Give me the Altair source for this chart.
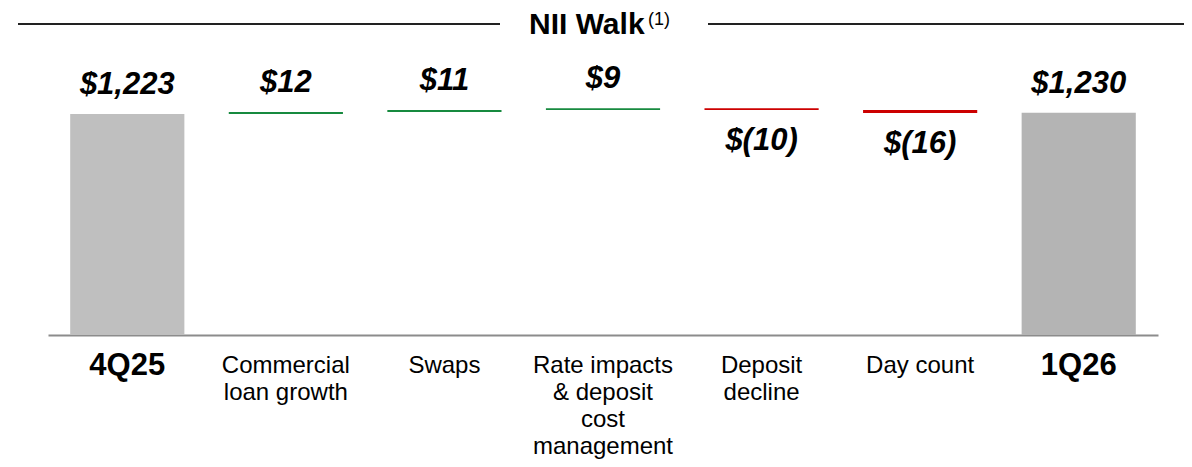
import altair as alt
import pandas as pd

# ---- data ----
categories = ["4Q25", "Commercial loan growth", "Swaps",
              "Rate impacts & deposit cost management",
              "Deposit decline", "Day count", "1Q26"]
cat_lines = ["4Q25", "Commercial\nloan growth", "Swaps",
             "Rate impacts\n& deposit\ncost\nmanagement",
             "Deposit\ndecline", "Day count", "1Q26"]
values = [1223, 12, 11, 9, -10, -16, 1230]
kinds = ["start", "delta", "delta", "delta", "delta", "delta", "end"]
title_text = "NII Walk"
title_note = "(1)"

# ---- build waterfall table ----
rows = []
running = 0
for cat, lab, v, k in zip(categories, cat_lines, values, kinds):
    if k in ("start", "end"):
        s, e = 0, v
        running = v
        kind = k
    else:
        s, e = running, running + v
        running = e
        kind = "increase" if v >= 0 else "decrease"
    if v < 0:
        txt = "$({:,})".format(abs(v))
    else:
        txt = "${:,}".format(v)
    rows.append(dict(cat=cat, lab=lab, start=s, end=e, top=max(s, e), bot=min(s, e),
                     kind=kind, txt=txt, neg=v < 0, bold=k in ("start", "end")))
df = pd.DataFrame(rows)

FONT = "Liberation Sans, Arial, Helvetica, sans-serif"

xenc = alt.X("cat:N", sort=categories,
             scale=alt.Scale(paddingInner=0.28, paddingOuter=0.14),
             axis=alt.Axis(title=None, labels=False, ticks=False, grid=False,
                           domainColor="#8c8c8c", domainWidth=2))
yscale = alt.Scale(domain=[0, 1500], nice=False, zero=True)

base = alt.Chart(df)

bars = base.mark_bar().encode(
    x=xenc,
    y=alt.Y("start:Q", scale=yscale, axis=None),
    y2="end:Q",
    color=alt.Color("kind:N",
                    scale=alt.Scale(domain=["start", "increase", "decrease", "end"],
                                    range=["#bfbfbf", "#178a3f", "#cc0000", "#b4b4b4"]),
                    legend=None),
)

pos_labels = base.transform_filter("!datum.neg").mark_text(
    font=FONT, fontSize=31, fontWeight="bold", fontStyle="italic",
    baseline="alphabetic", dy=-20, color="#000000"
).encode(x=alt.X("cat:N", sort=categories), y=alt.Y("top:Q", scale=yscale), text="txt:N")

neg_labels = base.transform_filter("datum.neg").mark_text(
    font=FONT, fontSize=31, fontWeight="bold", fontStyle="italic",
    baseline="alphabetic", dy=40, color="#000000"
).encode(x=alt.X("cat:N", sort=categories), y=alt.Y("bot:Q", scale=yscale), text="txt:N")

cat_bold = base.transform_filter("datum.bold").mark_text(
    font=FONT, fontSize=31, fontWeight="bold", baseline="alphabetic",
    color="#000000", lineBreak="\n"
).encode(x=alt.X("cat:N", sort=categories), y=alt.value(311), text="lab:N")

cat_reg = base.transform_filter("!datum.bold").mark_text(
    font=FONT, fontSize=24, baseline="alphabetic", lineHeight=27,
    color="#000000", lineBreak="\n"
).encode(x=alt.X("cat:N", sort=categories), y=alt.value(309), text="lab:N")

tdf = pd.DataFrame({"t": [title_text], "n": [title_note]})
tbase = alt.Chart(tdf)
title_main = tbase.mark_text(font=FONT, fontSize=30, fontWeight="bold",
                             align="left", baseline="alphabetic", color="#000000").encode(
    x=alt.value(481), y=alt.value(-30), text="t:N")
title_sup = tbase.mark_text(font=FONT, fontSize=18, align="left",
                            baseline="alphabetic", color="#000000").encode(
    x=alt.value(600), y=alt.value(-39), text="n:N")
rule_left = tbase.mark_rule(color="#222222", strokeWidth=2).encode(
    x=alt.value(-30), x2=alt.value(452), y=alt.value(-40))
rule_right = tbase.mark_rule(color="#222222", strokeWidth=2).encode(
    x=alt.value(660), x2=alt.value(1136), y=alt.value(-40))

chart = alt.layer(
    bars, pos_labels, neg_labels, cat_bold, cat_reg,
    title_main, title_sup, rule_left, rule_right
).properties(
    width=1110, height=271,
    padding={"left": 40, "top": 56, "right": 26, "bottom": 124},
    autosize=alt.AutoSizeParams(type="none"),
    background="#ffffff",
).configure_view(stroke=None)

chart.save("out.html", embed_options={"renderer": "svg", "actions": False})
